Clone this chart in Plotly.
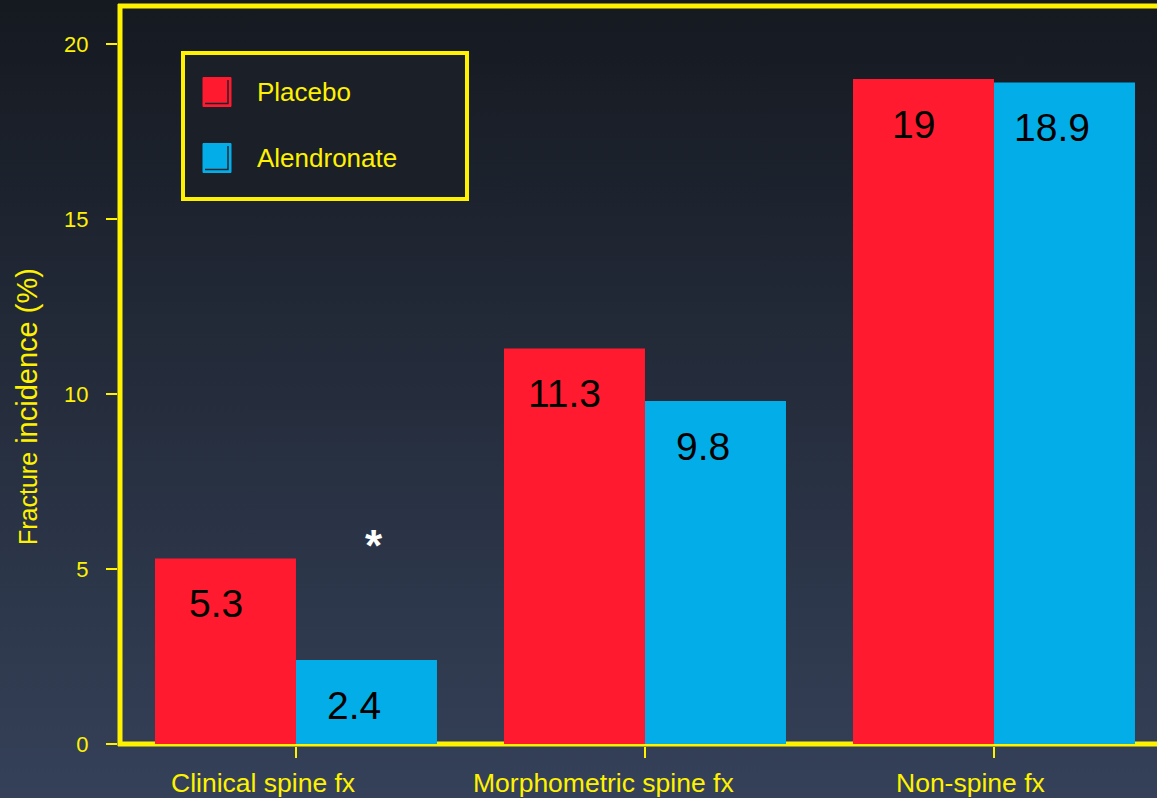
import base64
import plotly.graph_objects as go

# Fracture incidence (%) by fracture type and treatment arm
categories = ["Clinical spine fx", "Morphometric spine fx", "Non-spine fx"]
placebo = [5.3, 11.3, 19]
alendronate = [2.4, 9.8, 18.9]
y_ticks = [0, 5, 10, 15, 20]

YELLOW = "#fff200"
RED = "#ff1a2f"
BLUE = "#03aee8"
FONT = "Liberation Sans, Arial"

W, H = 1157, 798
ML, MR, MT, MB = 118, 0, 6, 52
PW, PH = W - ML - MR, H - MT - MB

# category labels sit a little left of their tick marks
label_shift = [-33, -41, -23]


def px(x):
    return (x - ML) / PW


def py(y):
    return (H - MB - y) / PH


fig = go.Figure()
fig.add_bar(x=categories, y=placebo, name="Placebo", marker=dict(color=RED, line=dict(width=0)))
fig.add_bar(x=categories, y=alendronate, name="Alendronate", marker=dict(color=BLUE, line=dict(width=0)))

# value labels inside the top of each bar
for cat, v in zip(categories, placebo):
    fig.add_annotation(x=cat, y=v, xref="x", yref="y", text=f"{v:g}", showarrow=False,
                       xshift=-80, yshift=-45, yanchor="middle",
                       font=dict(family=FONT, size=39, color="black"))
for cat, v in zip(categories, alendronate):
    fig.add_annotation(x=cat, y=v, xref="x", yref="y", text=f"{v:g}", showarrow=False,
                       xshift=58, yshift=-45, yanchor="middle",
                       font=dict(family=FONT, size=39, color="black"))

# category labels under the axis
for cat, dx in zip(categories, label_shift):
    fig.add_annotation(x=cat, y=py(783), xref="x", yref="paper", text=cat, showarrow=False,
                       xshift=dx, yanchor="middle",
                       font=dict(family=FONT, size=26.5, color=YELLOW))

# significance marker over the clinical spine alendronate bar
fig.add_annotation(x=categories[0], y=alendronate[0], xref="x", yref="y", text="<b>*</b>",
                   showarrow=False, xshift=78, yshift=115, yanchor="middle",
                   font=dict(family=FONT, size=44, color="white"))

# y axis title with a smaller first word
fig.add_annotation(x=px(27), y=py(407), xref="paper", yref="paper", textangle=-90,
                   text="<span style='font-size:25px'>Fracture</span> incidence (%)",
                   showarrow=False, xanchor="center", yanchor="middle",
                   font=dict(family=FONT, size=29, color=YELLOW))

# frame lines (left, top, bottom)
frame = dict(type="line", xref="paper", yref="paper", line=dict(color=YELLOW, width=5))
fig.add_shape(**frame, x0=px(120), x1=px(120), y0=py(746), y1=py(4), layer="above")
fig.add_shape(**frame, x0=px(118), x1=px(1200), y0=py(6), y1=py(6), layer="above")
fig.add_shape(**frame, x0=px(118), x1=px(1200), y0=py(744), y1=py(744), layer="below")

# legend box
fig.add_shape(type="rect", xref="paper", yref="paper", x0=px(183), x1=px(467), y0=py(53), y1=py(199),
              line=dict(color=YELLOW, width=4), fillcolor="#1b1f28", layer="above")
for name, color, yc in [("Placebo", RED, 92), ("Alendronate", BLUE, 158)]:
    fig.add_shape(type="rect", xref="paper", yref="paper", x0=px(203), x1=px(231),
                  y0=py(yc - 14.5), y1=py(yc + 14.5), line=dict(color=color, width=1),
                  fillcolor=color, layer="above")
    # thin inner shadow along the right and bottom edges of the swatch
    fig.add_shape(type="path", xref="paper", yref="paper", layer="above",
                  path=f"M {px(228)} {py(yc - 12)} L {px(228)} {py(yc + 11.5)} L {px(205)} {py(yc + 11.5)}",
                  line=dict(color="#20242c", width=1.5))
    fig.add_annotation(x=px(255), y=py(yc), xref="paper", yref="paper", text=name, showarrow=False,
                       xanchor="left", yanchor="middle",
                       font=dict(family=FONT, size=26, color=YELLOW))

# vertical background gradient
svg = (
    f'<svg xmlns="http://www.w3.org/2000/svg" width="{W}" height="{H}" preserveAspectRatio="none">'
    '<defs><linearGradient id="g" x1="0" y1="0" x2="0" y2="1">'
    '<stop offset="0" stop-color="#151920"/><stop offset="1" stop-color="#354159"/>'
    '</linearGradient></defs>'
    f'<rect width="{W}" height="{H}" fill="url(#g)"/></svg>'
)
src = "data:image/svg+xml;base64," + base64.b64encode(svg.encode()).decode()
fig.add_layout_image(source=src, xref="paper", yref="paper", x=px(0), y=py(0),
                     sizex=W / PW, sizey=H / PH, xanchor="left", yanchor="top",
                     sizing="stretch", layer="below")

fig.update_layout(
    width=W, height=H,
    margin=dict(l=ML, r=MR, t=MT, b=MB),
    paper_bgcolor="#354159",
    plot_bgcolor="rgba(0,0,0,0)",
    barmode="group", bargap=0.192, bargroupgap=0,
    showlegend=False,
    font=dict(family=FONT, color=YELLOW),
)
fig.update_xaxes(
    range=[-0.51, -0.51 + PW / 349], showgrid=False, zeroline=False, showline=False,
    ticks="outside", ticklen=11, tickwidth=2, tickcolor=YELLOW, showticklabels=False,
)
fig.update_yaxes(
    range=[(744 - 746) / 35, (744 - 6) / 35], tickvals=y_ticks, showgrid=False, zeroline=False,
    showline=False, ticks="outside", ticklen=11, tickwidth=2, tickcolor=YELLOW,
    tickfont=dict(size=22, color=YELLOW), ticklabelstandoff=13,
)

fig.write_html("out.html")
